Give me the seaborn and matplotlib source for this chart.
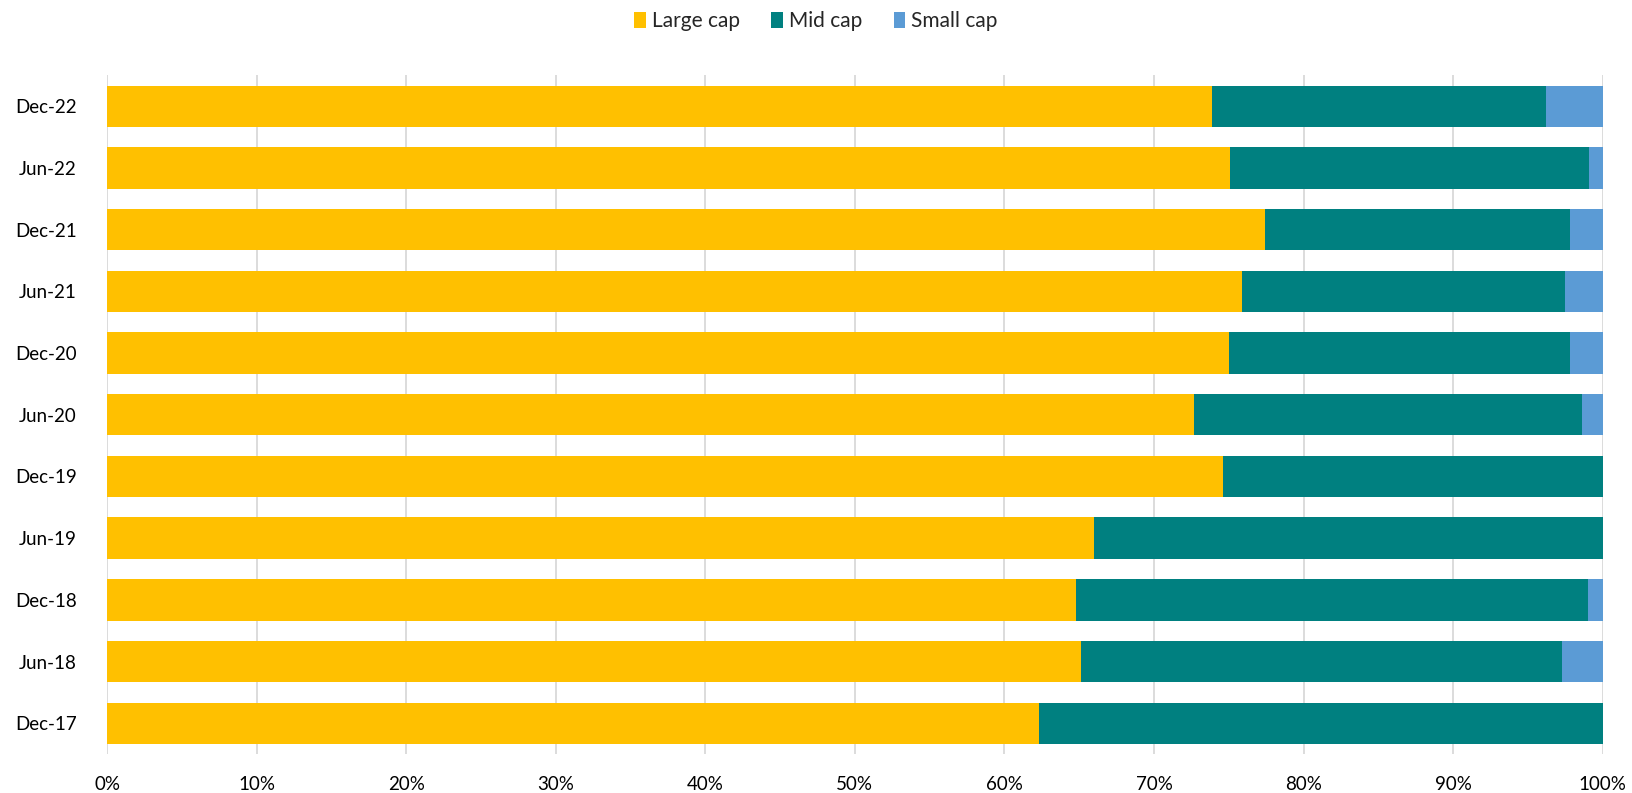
import matplotlib
matplotlib.use("Agg")
import matplotlib.pyplot as plt
import seaborn as sns
import numpy as np
import pandas as pd
from matplotlib.patches import Patch
from matplotlib.ticker import PercentFormatter

periods = ["Dec-22", "Jun-22", "Dec-21", "Jun-21", "Dec-20", "Jun-20",
           "Dec-19", "Jun-19", "Dec-18", "Jun-18", "Dec-17"]
large_cap = [73.9, 75.1, 77.4, 75.9, 75.0, 72.7, 74.6, 66.0, 64.8, 65.1, 62.3]
mid_cap = [22.3, 24.0, 20.4, 21.6, 22.8, 25.9, 25.4, 34.0, 34.2, 32.2, 37.7]
small_cap = [3.8, 0.9, 2.2, 2.5, 2.2, 1.4, 0.0, 0.0, 1.0, 2.7, 0.0]
series_names = ["Large cap", "Mid cap", "Small cap"]
colors = ["#FFC000", "#008080", "#5B9BD5"]

df = pd.DataFrame({"period": periods, "large": large_cap, "mid": mid_cap, "small": small_cap})
df["c_large"] = df["large"]
df["c_mid"] = df["large"] + df["mid"]
df["c_small"] = df["c_mid"] + df["small"]

sns.set_theme(style="white")
plt.rcParams["font.family"] = ["Lato", "DejaVu Sans"]

fig = plt.figure(figsize=(16.32, 7.93), dpi=100)
ax = fig.add_axes([0.0656, 0.049, 0.9164, 0.856])

for col, c in zip(["c_small", "c_mid", "c_large"], [colors[2], colors[1], colors[0]]):
    sns.barplot(data=df, x=col, y="period", order=periods, orient="h",
                color=c, width=0.67, saturation=1, ax=ax, zorder=3,
                edgecolor="none", linewidth=0)

ax.set_xlim(0, 100)
ax.set_xticks(np.arange(0, 101, 10))
ax.xaxis.set_major_formatter(PercentFormatter(decimals=0))
ax.grid(axis="x", color="#D9D9D9", linewidth=1.3, zorder=0)
ax.grid(axis="y", visible=False)
ax.set_axisbelow(True)
for s in ax.spines.values():
    s.set_visible(False)
ax.set_xlabel("")
ax.set_ylabel("")
ax.tick_params(axis="x", length=0, pad=16, labelsize=13.5, labelcolor="#000000")
ax.tick_params(axis="y", length=0, pad=22, labelsize=13.5, labelcolor="#000000")

handles = [Patch(facecolor=c, edgecolor="none") for c in colors]
fig.legend(handles, series_names, loc="center", bbox_to_anchor=(0.5, 0.973),
           ncol=3, frameon=False, fontsize=15, handlelength=0.55, handleheight=0.8,
           handletextpad=0.3, columnspacing=1.5)

fig.savefig("out.png", dpi=100)
